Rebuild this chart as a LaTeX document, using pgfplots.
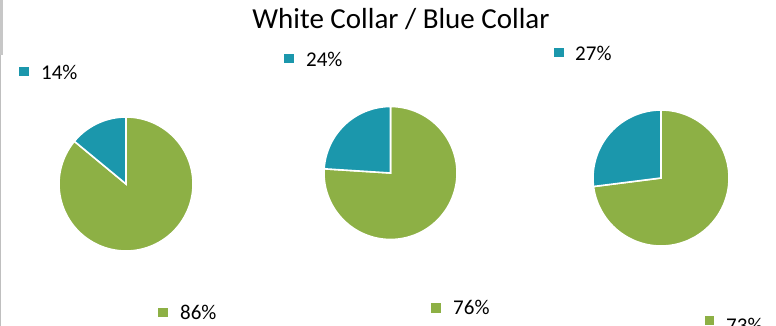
\documentclass[border=0pt]{standalone}
\usepackage{pgfplots}
\pgfplotsset{compat=1.18}
\usepackage{fontspec}
\setmainfont{Carlito}
\definecolor{blueslice}{HTML}{1B97AC}
\definecolor{greenslice}{HTML}{8DB045}
\begin{document}
\begin{tikzpicture}
\path[use as bounding box] (0,0) rectangle (776bp,326bp);
\begin{axis}[
  at={(0,0)}, anchor=south west,
  width=776bp, height=326bp, scale only axis,
  xmin=0, xmax=776, ymin=0, ymax=326,
  hide axis, clip=false,
]
% left gray border
\addplot[draw=none, fill=black!22] coordinates {(0,326) (3.2,326) (3.2,271) (0,271)} -- cycle;
\addplot[draw=black!25, line width=1.2bp] coordinates {(0.6,271) (0.6,0)};
% Pie 1: 14% / 86%, centre (126,142), r=67
\addplot[fill=greenslice, draw=white, line width=1.6bp, domain=140.4:450, samples=120]
  ({126+67*cos(x)}, {142+67*sin(x)}) -- (axis cs:126,142) -- cycle;
\addplot[fill=blueslice, draw=white, line width=1.6bp, domain=90:140.4, samples=40]
  ({126+67*cos(x)}, {142+67*sin(x)}) -- (axis cs:126,142) -- cycle;
% Pie 2: 24% / 76%, centre (390.5,153), r=66.5
\addplot[fill=greenslice, draw=white, line width=1.6bp, domain=176.4:450, samples=120]
  ({390.5+66.5*cos(x)}, {153+66.5*sin(x)}) -- (axis cs:390.5,153) -- cycle;
\addplot[fill=blueslice, draw=white, line width=1.6bp, domain=90:176.4, samples=40]
  ({390.5+66.5*cos(x)}, {153+66.5*sin(x)}) -- (axis cs:390.5,153) -- cycle;
% Pie 3: 27% / 73%, centre (661,148), r=68
\addplot[fill=greenslice, draw=white, line width=1.6bp, domain=187.2:450, samples=120]
  ({661+68*cos(x)}, {148+68*sin(x)}) -- (axis cs:661,148) -- cycle;
\addplot[fill=blueslice, draw=white, line width=1.6bp, domain=90:187.2, samples=40]
  ({661+68*cos(x)}, {148+68*sin(x)}) -- (axis cs:661,148) -- cycle;
% legend-like squares
\addplot[only marks, mark=square*, mark size=4.2bp, mark options={draw=blueslice, fill=blueslice}]
  coordinates {(23.5,254.5) (288.5,267.5) (558.5,273.5)};
\addplot[only marks, mark=square*, mark size=4.2bp, mark options={draw=greenslice, fill=greenslice}]
  coordinates {(162.5,14) (435.5,18.5) (709,6)};
% labels
\node[anchor=west, inner sep=0pt, font=\fontsize{21bp}{24bp}\selectfont] at (axis cs:41,254) {14\%};
\node[anchor=west, inner sep=0pt, font=\fontsize{21bp}{24bp}\selectfont] at (axis cs:306,267) {24\%};
\node[anchor=west, inner sep=0pt, font=\fontsize{21bp}{24bp}\selectfont] at (axis cs:575,273) {27\%};
\node[anchor=west, inner sep=0pt, font=\fontsize{21bp}{24bp}\selectfont] at (axis cs:180,13.5) {86\%};
\node[anchor=west, inner sep=0pt, font=\fontsize{21bp}{24bp}\selectfont] at (axis cs:453,19) {76\%};
\node[anchor=west, inner sep=0pt, font=\fontsize{21bp}{24bp}\selectfont] at (axis cs:726,0.5) {73\%};
% title
\node[anchor=base, inner sep=0pt, font=\fontsize{29bp}{33bp}\selectfont] at (axis cs:401,297) {White Collar / Blue Collar};
\end{axis}
\end{tikzpicture}
\end{document}
